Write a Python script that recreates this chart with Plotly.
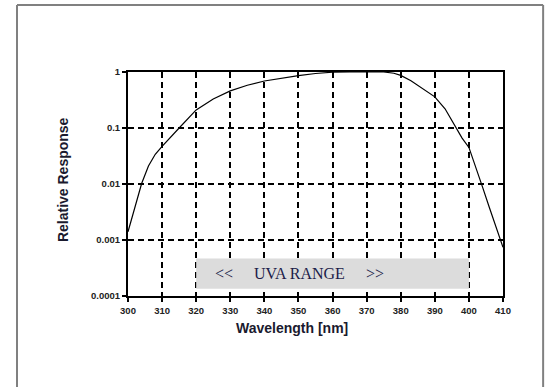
import plotly.graph_objects as go

wavelength = [300, 302, 304, 306, 308, 310, 312, 315, 320, 325, 330, 335, 340, 345,
              350, 355, 360, 365, 370, 375, 378, 380, 383, 386, 390, 393, 396, 398,
              400, 402, 404, 406, 408, 410]
response = [0.0014, 0.004, 0.0102, 0.021, 0.034, 0.047, 0.064, 0.1, 0.21, 0.33, 0.46,
            0.58, 0.69, 0.78, 0.86, 0.94, 0.99, 1.0, 1.0, 1.0, 0.95, 0.87, 0.7, 0.52,
            0.36, 0.22, 0.11, 0.066, 0.045, 0.019, 0.0088, 0.0038, 0.0016, 0.00074]

x_ticks = [300, 310, 320, 330, 340, 350, 360, 370, 380, 390, 400, 410]
y_ticks = [0.0001, 0.001, 0.01, 0.1, 1]
y_ticktext = ["0.0001", "0.001", "0.01", "0.1", "1"]

uva_start, uva_end = 320, 400
uva_low, uva_high = 10 ** -3.87, 10 ** -3.33

fig = go.Figure()
fig.add_trace(go.Scatter(x=wavelength, y=response, mode="lines",
                         line=dict(color="black", width=1.2), hoverinfo="skip",
                         showlegend=False))

# UVA range band (covers the grid)
fig.add_shape(type="rect", xref="x", yref="y", x0=uva_start, x1=uva_end,
              y0=uva_low, y1=uva_high, fillcolor="#dcdcdc", line=dict(width=0),
              layer="above")

txt_font = dict(family="Liberation Serif, Times New Roman, serif", size=16, color="#1c1c4a")
fig.add_annotation(x=328.3, y=-3.6, xref="x", yref="y", text="&lt;&lt;", showarrow=False, font=txt_font)
fig.add_annotation(x=350.4, y=-3.6, xref="x", yref="y", text="UVA RANGE", showarrow=False, font=txt_font)
fig.add_annotation(x=372.4, y=-3.6, xref="x", yref="y", text="&gt;&gt;", showarrow=False, font=txt_font)

# axis titles
title_font = dict(family="Arial, Liberation Sans, sans-serif", size=14, color="#1a1a2e")
fig.add_annotation(x=0.437, y=-0.1415, xref="paper", yref="paper", text="<b>Wavelength [nm]</b>",
                   showarrow=False, font=title_font, xanchor="center", yanchor="middle")
fig.add_annotation(x=-0.173, y=0.518, xref="paper", yref="paper", text="<b>Relative Response</b>",
                   showarrow=False, font=title_font, textangle=-90, xanchor="center", yanchor="middle")

# outer frame (left/top/right edges)
fig.add_shape(type="line", xref="paper", yref="paper", x0=-0.296, x1=-0.296,
              y0=-0.6, y1=1.299, line=dict(color="#808080", width=2), layer="below")
fig.add_shape(type="line", xref="paper", yref="paper", x0=-0.296, x1=1.107,
              y0=1.299, y1=1.299, line=dict(color="#808080", width=2), layer="below")
fig.add_shape(type="line", xref="paper", yref="paper", x0=1.107, x1=1.107,
              y0=-0.6, y1=1.299, line=dict(color="#808080", width=2), layer="below")

tick_font = dict(family="Arial, Liberation Sans, sans-serif", size=9.5, color="#222222")

fig.update_layout(
    width=548, height=387,
    margin=dict(l=128, r=45, t=72, b=91),
    paper_bgcolor="white", plot_bgcolor="white",
    xaxis=dict(range=[300, 410], tickvals=x_ticks,
               ticktext=["<b>%d</b>" % v for v in x_ticks],
               ticks="outside", ticklen=4,
               tickcolor="black", tickwidth=1.5,
               showgrid=True, gridcolor="black", gridwidth=1.5, griddash="6px,4px",
               showline=True, linecolor="black", linewidth=2, mirror=True,
               zeroline=False, tickfont=tick_font, ticklabelstandoff=1),
    yaxis=dict(type="log", range=[-4, 0], tickvals=y_ticks,
               ticktext=["<b>%s</b>" % t for t in y_ticktext],
               ticks="outside", ticklen=4, tickcolor="black", tickwidth=1.5,
               showgrid=True, gridcolor="black", gridwidth=1.5, griddash="6px,4px",
               showline=True, linecolor="black", linewidth=2, mirror=True,
               zeroline=False, tickfont=tick_font),
)

fig.write_html("out.html", config={"displayModeBar": False},
               post_script="document.body.style.margin='0';document.body.style.overflow='hidden';")
